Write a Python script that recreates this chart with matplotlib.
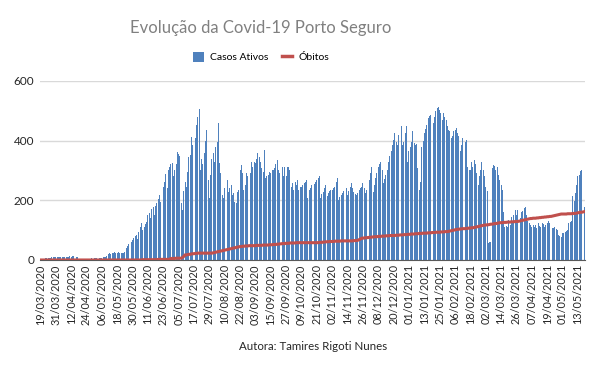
import numpy as np
import matplotlib
matplotlib.use('Agg')
from matplotlib import pyplot as plt
from matplotlib.patches import Patch
from matplotlib.lines import Line2D

plt.rcParams['font.family'] = ['Lato', 'DejaVu Sans']

# Casos ativos, one row per 12 days, starting 19/03/2020
casos = [
    1, 2, 3, 4, 5, 6, 7, 8, 8, 9, 9, 10,
    10, 10, 11, 10, 10, 11, 10, 10, 11, 10, 11, 12,
    11, 12, 12, 10, 11, 10, 2, 2, 2, 1, 1, 2,
    2, 1, 2, 3, 5, 4, 5, 6, 5, 6, 7, 8,
    8, 9, 10, 9, 12, 20, 22, 21, 25, 24, 26, 25,
    24, 26, 25, 24, 23, 25, 26, 40, 48, 52, 55, 60,
    68, 72, 80, 85, 70, 95, 110, 125, 100, 112, 120, 128,
    150, 157, 140, 170, 178, 150, 180, 190, 205, 218, 195, 225,
    246, 260, 288, 240, 300, 313, 320, 325, 280, 300, 322, 363,
    355, 347, 190, 168, 230, 260, 246, 296, 345, 352, 413, 385,
    385, 408, 453, 480, 507, 300, 340, 320, 357, 400, 436, 268,
    207, 285, 340, 357, 330, 380, 397, 458, 325, 290, 218, 207,
    240, 262, 268, 229, 240, 250, 218, 225, 195, 190, 229, 235,
    300, 318, 290, 235, 251, 290, 280, 301, 290, 330, 313, 330,
    325, 340, 358, 345, 330, 308, 296, 369, 275, 280, 285, 295,
    290, 300, 301, 308, 320, 335, 301, 290, 318, 313, 280, 313,
    280, 313, 313, 300, 246, 257, 235, 263, 251, 269, 235, 245,
    245, 252, 258, 262, 269, 208, 235, 240, 251, 246, 255, 262,
    268, 275, 280, 208, 220, 229, 240, 252, 213, 225, 230, 235,
    235, 240, 246, 260, 275, 202, 210, 218, 225, 232, 240, 240,
    218, 230, 245, 258, 240, 229, 222, 218, 225, 235, 240, 246,
    258, 240, 224, 235, 255, 269, 290, 313, 229, 250, 275, 290,
    313, 320, 330, 300, 258, 270, 285, 300, 330, 350, 364, 386,
    403, 426, 397, 386, 420, 443, 448, 386, 397, 426, 448, 330,
    364, 380, 397, 431, 393, 386, 390, 309, 235, 260, 380, 400,
    426, 440, 453, 477, 481, 487, 487, 460, 480, 500, 510, 514,
    504, 493, 470, 493, 480, 470, 448, 437, 431, 410, 414, 431,
    437, 443, 426, 414, 364, 386, 409, 411, 397, 403, 313, 302,
    302, 330, 313, 336, 320, 291, 252, 280, 300, 330, 302, 280,
    246, 232, 57, 60, 61, 309, 319, 315, 302, 313, 286, 269,
    250, 235, 162, 112, 115, 110, 134, 118, 145, 129, 150, 168,
    150, 168, 151, 141, 160, 165, 175, 179, 150, 130, 124, 118,
    112, 118, 112, 118, 107, 124, 115, 112, 124, 120, 112, 118,
    125, 129, 124, 115, 107, 107, 112, 105, 101, 84, 80, 78,
    90, 92, 95, 98, 100, 124, 127, 129, 213, 196, 224, 250,
    280, 286, 297, 300, 258, 179,
]

# Obitos (acumulado), same days
obitos = [0] * 72 + [
    0, 0, 0, 0, 0, 0, 0, 0, 1, 1, 1, 1,
    1, 1, 1, 1, 1, 1, 1, 1, 2, 2, 2, 2,
    2, 2, 2, 2, 2, 3, 5, 5, 5, 5, 6, 6,
    6, 6, 6, 8, 12, 17, 17, 18, 19, 19, 20, 21,
    21, 22, 22, 23, 23, 23, 23, 23, 23, 23, 23, 23,
    23, 23, 23, 24, 25, 26, 27, 28, 29, 30, 31, 32,
    33, 34, 35, 36, 37, 38, 39, 40, 41, 42, 43, 44,
    45, 45, 46, 46, 47, 47, 47, 48, 48, 48, 48, 48,
    48, 49, 49, 49, 49, 49, 50, 50, 50, 50, 50, 51,
    51, 51, 52, 52, 52, 53, 53, 54, 54, 55, 55, 55,
    56, 56, 56, 57, 57, 57, 57, 57, 58, 58, 58, 58,
    58, 58, 58, 58, 58, 58, 58, 58, 58, 58, 58, 58,
    58, 58, 59, 59, 59, 60, 60, 61, 61, 61, 62, 62,
    62, 62, 63, 63, 63, 63, 63, 64, 64, 64, 64, 64,
    64, 64, 64, 64, 64, 65, 65, 65, 66, 68, 70, 73,
    73, 74, 74, 75, 75, 76, 76, 77, 77, 78, 78, 78,
    79, 79, 79, 80, 80, 80, 81, 81, 81, 82, 82, 82,
    82, 82, 83, 83, 83, 84, 84, 84, 85, 85, 85, 86,
    86, 86, 87, 87, 87, 88, 88, 88, 89, 89, 89, 90,
    90, 90, 90, 91, 91, 91, 92, 92, 92, 93, 93, 93,
    93, 94, 94, 94, 95, 95, 95, 96, 97, 98, 99, 100,
    101, 102, 103, 103, 104, 104, 105, 105, 105, 106, 106, 107,
    107, 108, 108, 109, 110, 111, 112, 113, 114, 115, 116, 117,
    117, 118, 118, 119, 120, 120, 121, 122, 122, 123, 124, 125,
    125, 125, 126, 126, 126, 127, 127, 127, 128, 128, 128, 129,
    129, 129, 130, 131, 132, 133, 134, 135, 136, 137, 138, 139,
    139, 140, 140, 140, 141, 141, 142, 142, 143, 143, 144, 144,
    145, 145, 146, 146, 147, 148, 149, 150, 151, 152, 153, 154,
    154, 154, 154, 154, 155, 155, 155, 155, 156, 156, 156, 157,
    158, 159, 160, 160, 161, 162,
]

datas = ['19/03/2020', '31/03/2020', '12/04/2020', '24/04/2020', '06/05/2020',
         '18/05/2020', '30/05/2020', '11/06/2020', '23/06/2020', '05/07/2020',
         '17/07/2020', '29/07/2020', '10/08/2020', '22/08/2020', '03/09/2020',
         '15/09/2020', '27/09/2020', '09/10/2020', '21/10/2020', '02/11/2020',
         '14/11/2020', '26/11/2020', '08/12/2020', '20/12/2020', '01/01/2021',
         '13/01/2021', '25/01/2021', '06/02/2021', '18/02/2021', '02/03/2021',
         '14/03/2021', '26/03/2021', '07/04/2021', '19/04/2021', '01/05/2021',
         '13/05/2021']

blue = '#4f81bd'
red = '#c0504d'

fig = plt.figure(figsize=(6.03, 3.73), dpi=100)
ax = fig.add_axes([0.066, 0.303, 0.904, 0.48])

x = np.arange(len(casos))
ax.bar(x, casos, width=0.75, color=blue, linewidth=0, zorder=2)
ax.plot(x, obitos, color=red, linewidth=2.2, zorder=3)

ax.set_xlim(-0.5, len(casos) - 0.5)
ax.set_ylim(0, 600)
ax.set_yticks([0, 200, 400, 600])
ax.grid(axis='y', color='#d9d9d9', linewidth=1, zorder=0)
ax.set_axisbelow(True)

ax.set_xticks(np.arange(len(datas)) * 12)
ax.set_xticklabels(datas, rotation=90, fontsize=7.8, color='#262626')
ax.tick_params(axis='y', labelsize=8.5, labelcolor='#262626', length=0, pad=4)
ax.tick_params(axis='x', length=0, pad=3)

for s in ['top', 'right', 'left']:
    ax.spines[s].set_visible(False)
ax.spines['bottom'].set_color('#595959')

fig.text(0.433, 0.925, 'Evolução da Covid-19 Porto Seguro', ha='center', va='center',
         fontsize=12, color='#808080')

handles = [Patch(facecolor=blue, edgecolor='none'),
           Line2D([0], [0], color=red, linewidth=2.5)]
fig.legend(handles, ['Casos Ativos', 'Óbitos'], loc='center', bbox_to_anchor=(0.433, 0.847),
           ncol=2, frameon=False, fontsize=7.5, handlelength=1.0, handleheight=1.2,
           columnspacing=1.3, handletextpad=0.6)

fig.text(0.519, 0.07, 'Autora: Tamires Rigoti Nunes', ha='center', va='center',
         fontsize=8.3, color='#262626')

fig.savefig('out.png', dpi=100, facecolor='white')
